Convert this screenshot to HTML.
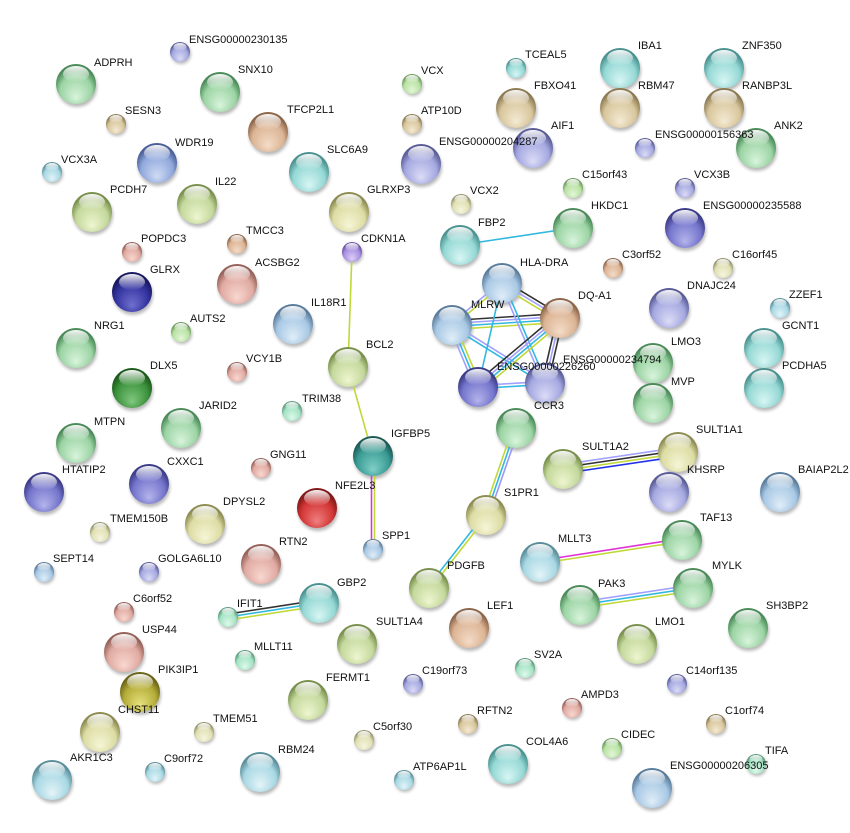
<!DOCTYPE html>
<html><head><meta charset="utf-8"><style>
html,body{margin:0;padding:0;background:#fff;}
svg{display:block;}
text{font-family:"Liberation Sans",Arial,sans-serif;font-size:11px;fill:#111;}
</style></head><body>
<svg width="850" height="833" viewBox="0 0 850 833" xmlns="http://www.w3.org/2000/svg">
<defs>
<filter id="bl" x="-50%" y="-50%" width="200%" height="200%"><feGaussianBlur stdDeviation="1.6"/></filter>
<linearGradient id="hl" x1="0" y1="0" x2="0" y2="1"><stop offset="0" stop-color="#fff" stop-opacity=".95"/><stop offset="1" stop-color="#fff" stop-opacity="0"/></linearGradient>
<radialGradient id="gr" cx="50%" cy="62%" r="55%" fx="50%" fy="85%"><stop offset="0" stop-color="#d8f4dc"/><stop offset=".72" stop-color="#9cd4a4"/><stop offset="1" stop-color="#4a8a58"/></radialGradient>
<radialGradient id="yg" cx="50%" cy="62%" r="55%" fx="50%" fy="85%"><stop offset="0" stop-color="#eef6d0"/><stop offset=".72" stop-color="#c4d89c"/><stop offset="1" stop-color="#78904c"/></radialGradient>
<radialGradient id="ye" cx="50%" cy="62%" r="55%" fx="50%" fy="85%"><stop offset="0" stop-color="#f6f6d8"/><stop offset=".72" stop-color="#dcdca4"/><stop offset="1" stop-color="#8c8c50"/></radialGradient>
<radialGradient id="ol" cx="50%" cy="62%" r="55%" fx="50%" fy="85%"><stop offset="0" stop-color="#e8e480"/><stop offset=".72" stop-color="#b4ac38"/><stop offset="1" stop-color="#6a6418"/></radialGradient>
<radialGradient id="te" cx="50%" cy="62%" r="55%" fx="50%" fy="85%"><stop offset="0" stop-color="#d8f6f4"/><stop offset=".72" stop-color="#94d8d4"/><stop offset="1" stop-color="#4a9290"/></radialGradient>
<radialGradient id="dt" cx="50%" cy="62%" r="55%" fx="50%" fy="85%"><stop offset="0" stop-color="#80d0c8"/><stop offset=".72" stop-color="#3a9c94"/><stop offset="1" stop-color="#1c5a56"/></radialGradient>
<radialGradient id="ta" cx="50%" cy="62%" r="55%" fx="50%" fy="85%"><stop offset="0" stop-color="#f4ead4"/><stop offset=".72" stop-color="#d8c69c"/><stop offset="1" stop-color="#8c7a52"/></radialGradient>
<radialGradient id="sa" cx="50%" cy="62%" r="55%" fx="50%" fy="85%"><stop offset="0" stop-color="#f4dcc8"/><stop offset=".72" stop-color="#dcb494"/><stop offset="1" stop-color="#8c6448"/></radialGradient>
<radialGradient id="pk" cx="50%" cy="62%" r="55%" fx="50%" fy="85%"><stop offset="0" stop-color="#f8d8d0"/><stop offset=".72" stop-color="#e0aaa2"/><stop offset="1" stop-color="#946058"/></radialGradient>
<radialGradient id="rd" cx="50%" cy="62%" r="55%" fx="50%" fy="85%"><stop offset="0" stop-color="#f08080"/><stop offset=".72" stop-color="#d23434"/><stop offset="1" stop-color="#801818"/></radialGradient>
<radialGradient id="bu" cx="50%" cy="62%" r="55%" fx="50%" fy="85%"><stop offset="0" stop-color="#e0eef8"/><stop offset=".72" stop-color="#a8c8e4"/><stop offset="1" stop-color="#5a7c9c"/></radialGradient>
<radialGradient id="pw" cx="50%" cy="62%" r="55%" fx="50%" fy="85%"><stop offset="0" stop-color="#dcdcf6"/><stop offset=".72" stop-color="#a4a8e0"/><stop offset="1" stop-color="#5a5c98"/></radialGradient>
<radialGradient id="dp" cx="50%" cy="62%" r="55%" fx="50%" fy="85%"><stop offset="0" stop-color="#b4b4ec"/><stop offset=".72" stop-color="#7474cc"/><stop offset="1" stop-color="#3c3c88"/></radialGradient>
<radialGradient id="nv" cx="50%" cy="62%" r="55%" fx="50%" fy="85%"><stop offset="0" stop-color="#7070d0"/><stop offset=".72" stop-color="#3434a0"/><stop offset="1" stop-color="#181860"/></radialGradient>
<radialGradient id="dg" cx="50%" cy="62%" r="55%" fx="50%" fy="85%"><stop offset="0" stop-color="#80c880"/><stop offset=".72" stop-color="#3c923c"/><stop offset="1" stop-color="#1c5a1c"/></radialGradient>
<radialGradient id="vi" cx="50%" cy="62%" r="55%" fx="50%" fy="85%"><stop offset="0" stop-color="#dcd0f8"/><stop offset=".72" stop-color="#a890e0"/><stop offset="1" stop-color="#6a50a0"/></radialGradient>
<radialGradient id="mi" cx="50%" cy="62%" r="55%" fx="50%" fy="85%"><stop offset="0" stop-color="#e0f8ec"/><stop offset=".72" stop-color="#a4e4c4"/><stop offset="1" stop-color="#5a9a7c"/></radialGradient>
<radialGradient id="py" cx="50%" cy="62%" r="55%" fx="50%" fy="85%"><stop offset="0" stop-color="#f6f6e0"/><stop offset=".72" stop-color="#e0e0b4"/><stop offset="1" stop-color="#94946a"/></radialGradient>
<radialGradient id="lg" cx="50%" cy="62%" r="55%" fx="50%" fy="85%"><stop offset="0" stop-color="#e4f6d8"/><stop offset=".72" stop-color="#b8e2a4"/><stop offset="1" stop-color="#6c9a5c"/></radialGradient>
<radialGradient id="lb" cx="50%" cy="62%" r="55%" fx="50%" fy="85%"><stop offset="0" stop-color="#e4f4f8"/><stop offset=".72" stop-color="#a8d8e4"/><stop offset="1" stop-color="#5a8e9a"/></radialGradient>
<radialGradient id="sb" cx="50%" cy="62%" r="55%" fx="50%" fy="85%"><stop offset="0" stop-color="#d0dcf4"/><stop offset=".72" stop-color="#90a8dc"/><stop offset="1" stop-color="#4a5e98"/></radialGradient>
<circle id="s20" cx="1" cy="3" r="20"/>
<circle id="s10" cx="1" cy="2" r="10"/>
<ellipse id="h20" cx="0" cy="-10" rx="13" ry="8" fill="url(#hl)"/>
<ellipse id="h10" cx="0" cy="-5" rx="6.5" ry="4" fill="url(#hl)"/>
</defs>

<!-- shadows -->
<g fill="#000" opacity=".28" filter="url(#bl)">
<use href="#s20" x="76" y="84"/><use href="#s10" x="180" y="52"/><use href="#s20" x="220" y="92"/><use href="#s10" x="116" y="124"/><use href="#s20" x="268" y="132"/><use href="#s20" x="157" y="163"/><use href="#s10" x="52" y="172"/><use href="#s20" x="92" y="212"/><use href="#s20" x="197" y="204"/><use href="#s10" x="237" y="244"/><use href="#s10" x="132" y="252"/><use href="#s20" x="132" y="292"/><use href="#s20" x="237" y="284"/><use href="#s20" x="76" y="348"/><use href="#s10" x="181" y="332"/><use href="#s10" x="237" y="372"/><use href="#s20" x="132" y="388"/><use href="#s20" x="181" y="428"/><use href="#s10" x="292" y="411"/><use href="#s20" x="309" y="172"/><use href="#s20" x="349" y="212"/><use href="#s10" x="352" y="252"/><use href="#s20" x="293" y="324"/><use href="#s20" x="348" y="367"/><use href="#s10" x="412" y="84"/><use href="#s10" x="516" y="68"/><use href="#s20" x="516" y="108"/><use href="#s10" x="412" y="124"/><use href="#s20" x="421" y="164"/><use href="#s20" x="533" y="148"/><use href="#s10" x="461" y="204"/><use href="#s20" x="460" y="245"/><use href="#s20" x="502" y="283"/><use href="#s20" x="452" y="325"/><use href="#s20" x="560" y="318"/><use href="#s20" x="478" y="387"/><use href="#s20" x="545" y="383"/><use href="#s20" x="516" y="428"/><use href="#s20" x="620" y="68"/><use href="#s20" x="724" y="68"/><use href="#s20" x="620" y="108"/><use href="#s20" x="724" y="108"/><use href="#s10" x="645" y="148"/><use href="#s20" x="756" y="148"/><use href="#s10" x="573" y="188"/><use href="#s10" x="685" y="188"/><use href="#s20" x="573" y="228"/><use href="#s20" x="685" y="228"/><use href="#s10" x="613" y="268"/><use href="#s10" x="723" y="268"/><use href="#s20" x="669" y="308"/><use href="#s10" x="780" y="308"/><use href="#s20" x="764" y="348"/><use href="#s20" x="653" y="363"/><use href="#s20" x="764" y="388"/><use href="#s20" x="653" y="403"/><use href="#s20" x="76" y="443"/><use href="#s20" x="44" y="492"/><use href="#s20" x="149" y="484"/><use href="#s10" x="261" y="468"/><use href="#s20" x="205" y="524"/><use href="#s10" x="100" y="532"/><use href="#s20" x="261" y="564"/><use href="#s10" x="44" y="572"/><use href="#s10" x="149" y="572"/><use href="#s10" x="124" y="612"/><use href="#s10" x="228" y="617"/><use href="#s20" x="124" y="652"/><use href="#s10" x="245" y="660"/><use href="#s20" x="140" y="692"/><use href="#s20" x="100" y="732"/><use href="#s10" x="204" y="732"/><use href="#s20" x="52" y="780"/><use href="#s10" x="155" y="772"/><use href="#s20" x="260" y="772"/><use href="#s20" x="373" y="456"/><use href="#s20" x="317" y="508"/><use href="#s20" x="486" y="515"/><use href="#s10" x="373" y="549"/><use href="#s20" x="540" y="562"/><use href="#s20" x="429" y="588"/><use href="#s20" x="319" y="603"/><use href="#s20" x="469" y="628"/><use href="#s20" x="357" y="644"/><use href="#s10" x="525" y="668"/><use href="#s10" x="413" y="684"/><use href="#s20" x="308" y="700"/><use href="#s10" x="468" y="724"/><use href="#s10" x="364" y="740"/><use href="#s20" x="508" y="764"/><use href="#s10" x="404" y="780"/><use href="#s20" x="678" y="452"/><use href="#s20" x="563" y="469"/><use href="#s20" x="669" y="492"/><use href="#s20" x="780" y="492"/><use href="#s20" x="682" y="540"/><use href="#s20" x="693" y="588"/><use href="#s20" x="580" y="605"/><use href="#s20" x="748" y="628"/><use href="#s20" x="637" y="644"/><use href="#s10" x="677" y="684"/><use href="#s10" x="572" y="708"/><use href="#s10" x="716" y="724"/><use href="#s10" x="612" y="748"/><use href="#s10" x="756" y="764"/><use href="#s20" x="652" y="788"/>
</g>

<!-- edges -->
<g stroke-width="1.6" fill="none">
<line x1="352" y1="252" x2="348" y2="367" stroke="#c0d838"/>
<line x1="348" y1="367" x2="373" y2="456" stroke="#c0d838"/>
<line x1="371.5" y1="456" x2="371.5" y2="549" stroke="#d040d0"/>
<line x1="374.5" y1="456" x2="374.5" y2="549" stroke="#c0d838"/>
<line x1="460" y1="245" x2="573" y2="228" stroke="#30b8e0"/>
<line x1="513.2" y1="427" x2="483.2" y2="514" stroke="#c0d838"/>
<line x1="516" y1="428" x2="486" y2="515" stroke="#30b8e0"/>
<line x1="518.8" y1="429" x2="488.8" y2="516" stroke="#9898f8"/>
<line x1="484.8" y1="514" x2="427.8" y2="587" stroke="#30b8e0"/>
<line x1="487.2" y1="516" x2="430.2" y2="589" stroke="#c0d838"/>
<line x1="563" y1="464.5" x2="678" y2="447.5" stroke="#a0a0ff"/>
<line x1="563" y1="467.5" x2="678" y2="450.5" stroke="#333"/>
<line x1="563" y1="470.5" x2="678" y2="453.5" stroke="#c0d838"/>
<line x1="563" y1="473.5" x2="678" y2="456.5" stroke="#2030e8"/>
<line x1="540" y1="560.5" x2="682" y2="538.5" stroke="#e030d8"/>
<line x1="540" y1="563.5" x2="682" y2="541.5" stroke="#c0d838"/>
<line x1="580" y1="602" x2="693" y2="585" stroke="#a0a0ff"/>
<line x1="580" y1="605" x2="693" y2="588" stroke="#30b8e0"/>
<line x1="580" y1="608" x2="693" y2="591" stroke="#c0d838"/>
<line x1="228" y1="614" x2="319" y2="600" stroke="#333"/>
<line x1="228" y1="617" x2="319" y2="603" stroke="#30b8e0"/>
<line x1="228" y1="620" x2="319" y2="606" stroke="#c0d838"/>
<!-- cluster -->
<line x1="501" y1="281.9" x2="451" y2="323.9" stroke="#a0a0ff"/>
<line x1="503" y1="284.1" x2="453" y2="326.1" stroke="#c0d838"/>
<line x1="503.6" y1="280.4" x2="561.6" y2="315.4" stroke="#333"/>
<line x1="502" y1="283" x2="560" y2="318" stroke="#a0a0ff"/>
<line x1="500.4" y1="285.6" x2="558.4" y2="320.6" stroke="#c0d838"/>
<line x1="452" y1="320.5" x2="560" y2="313.5" stroke="#333"/>
<line x1="452" y1="323.5" x2="560" y2="316.5" stroke="#a0a0ff"/>
<line x1="452" y1="326.5" x2="560" y2="319.5" stroke="#30b8e0"/>
<line x1="452" y1="329.5" x2="560" y2="322.5" stroke="#c0d838"/>
<line x1="449.2" y1="326.2" x2="475.2" y2="388.2" stroke="#a0a0ff"/>
<line x1="452" y1="325" x2="478" y2="387" stroke="#30b8e0"/>
<line x1="454.8" y1="323.8" x2="480.8" y2="385.8" stroke="#c0d838"/>
<line x1="452.8" y1="323.7" x2="545.8" y2="381.7" stroke="#a0a0ff"/>
<line x1="451.2" y1="326.3" x2="544.2" y2="384.3" stroke="#30b8e0"/>
<line x1="502" y1="283" x2="478" y2="387" stroke="#30b8e0"/>
<line x1="500.6" y1="283.6" x2="543.6" y2="383.6" stroke="#a0a0ff"/>
<line x1="503.4" y1="282.4" x2="546.4" y2="382.4" stroke="#30b8e0"/>
<line x1="557.1" y1="314.6" x2="475.1" y2="383.6" stroke="#333"/>
<line x1="559" y1="316.9" x2="477" y2="385.9" stroke="#a0a0ff"/>
<line x1="561" y1="319.1" x2="479" y2="388.1" stroke="#30b8e0"/>
<line x1="562.9" y1="321.5" x2="480.9" y2="390.5" stroke="#c0d838"/>
<line x1="557.1" y1="317.3" x2="542.1" y2="382.3" stroke="#333"/>
<line x1="560" y1="318" x2="545" y2="383" stroke="#a0a0ff"/>
<line x1="562.9" y1="318.7" x2="547.9" y2="383.7" stroke="#333"/>
<line x1="478" y1="385.5" x2="545" y2="381.5" stroke="#a0a0ff"/>
<line x1="478" y1="388.5" x2="545" y2="384.5" stroke="#30b8e0"/>
</g>

<!-- nodes -->
<g stroke="none">
<circle cx="76" cy="84" r="20" fill="url(#gr)"/><circle cx="180" cy="52" r="10" fill="url(#pw)"/><circle cx="220" cy="92" r="20" fill="url(#gr)"/><circle cx="116" cy="124" r="10" fill="url(#ta)"/><circle cx="268" cy="132" r="20" fill="url(#sa)"/><circle cx="157" cy="163" r="20" fill="url(#sb)"/><circle cx="52" cy="172" r="10" fill="url(#lb)"/><circle cx="92" cy="212" r="20" fill="url(#yg)"/><circle cx="197" cy="204" r="20" fill="url(#yg)"/><circle cx="237" cy="244" r="10" fill="url(#sa)"/><circle cx="132" cy="252" r="10" fill="url(#pk)"/><circle cx="132" cy="292" r="20" fill="url(#nv)"/><circle cx="237" cy="284" r="20" fill="url(#pk)"/><circle cx="76" cy="348" r="20" fill="url(#gr)"/><circle cx="181" cy="332" r="10" fill="url(#lg)"/><circle cx="237" cy="372" r="10" fill="url(#pk)"/><circle cx="132" cy="388" r="20" fill="url(#dg)"/><circle cx="181" cy="428" r="20" fill="url(#gr)"/><circle cx="292" cy="411" r="10" fill="url(#mi)"/><circle cx="309" cy="172" r="20" fill="url(#te)"/><circle cx="349" cy="212" r="20" fill="url(#ye)"/><circle cx="352" cy="252" r="10" fill="url(#vi)"/><circle cx="293" cy="324" r="20" fill="url(#bu)"/><circle cx="348" cy="367" r="20" fill="url(#yg)"/><circle cx="412" cy="84" r="10" fill="url(#lg)"/><circle cx="516" cy="68" r="10" fill="url(#te)"/><circle cx="516" cy="108" r="20" fill="url(#ta)"/><circle cx="412" cy="124" r="10" fill="url(#ta)"/><circle cx="421" cy="164" r="20" fill="url(#pw)"/><circle cx="533" cy="148" r="20" fill="url(#pw)"/><circle cx="461" cy="204" r="10" fill="url(#py)"/><circle cx="460" cy="245" r="20" fill="url(#te)"/><circle cx="502" cy="283" r="20" fill="url(#bu)"/><circle cx="452" cy="325" r="20" fill="url(#bu)"/><circle cx="560" cy="318" r="20" fill="url(#sa)"/><circle cx="478" cy="387" r="20" fill="url(#dp)"/><circle cx="545" cy="383" r="20" fill="url(#pw)"/><circle cx="516" cy="428" r="20" fill="url(#gr)"/><circle cx="620" cy="68" r="20" fill="url(#te)"/><circle cx="724" cy="68" r="20" fill="url(#te)"/><circle cx="620" cy="108" r="20" fill="url(#ta)"/><circle cx="724" cy="108" r="20" fill="url(#ta)"/><circle cx="645" cy="148" r="10" fill="url(#pw)"/><circle cx="756" cy="148" r="20" fill="url(#gr)"/><circle cx="573" cy="188" r="10" fill="url(#lg)"/><circle cx="685" cy="188" r="10" fill="url(#pw)"/><circle cx="573" cy="228" r="20" fill="url(#gr)"/><circle cx="685" cy="228" r="20" fill="url(#dp)"/><circle cx="613" cy="268" r="10" fill="url(#sa)"/><circle cx="723" cy="268" r="10" fill="url(#py)"/><circle cx="669" cy="308" r="20" fill="url(#pw)"/><circle cx="780" cy="308" r="10" fill="url(#lb)"/><circle cx="764" cy="348" r="20" fill="url(#te)"/><circle cx="653" cy="363" r="20" fill="url(#gr)"/><circle cx="764" cy="388" r="20" fill="url(#te)"/><circle cx="653" cy="403" r="20" fill="url(#gr)"/><circle cx="76" cy="443" r="20" fill="url(#gr)"/><circle cx="44" cy="492" r="20" fill="url(#dp)"/><circle cx="149" cy="484" r="20" fill="url(#dp)"/><circle cx="261" cy="468" r="10" fill="url(#pk)"/><circle cx="205" cy="524" r="20" fill="url(#ye)"/><circle cx="100" cy="532" r="10" fill="url(#py)"/><circle cx="261" cy="564" r="20" fill="url(#pk)"/><circle cx="44" cy="572" r="10" fill="url(#bu)"/><circle cx="149" cy="572" r="10" fill="url(#pw)"/><circle cx="124" cy="612" r="10" fill="url(#pk)"/><circle cx="228" cy="617" r="10" fill="url(#mi)"/><circle cx="124" cy="652" r="20" fill="url(#pk)"/><circle cx="245" cy="660" r="10" fill="url(#mi)"/><circle cx="140" cy="692" r="20" fill="url(#ol)"/><circle cx="100" cy="732" r="20" fill="url(#ye)"/><circle cx="204" cy="732" r="10" fill="url(#py)"/><circle cx="52" cy="780" r="20" fill="url(#lb)"/><circle cx="155" cy="772" r="10" fill="url(#lb)"/><circle cx="260" cy="772" r="20" fill="url(#lb)"/><circle cx="373" cy="456" r="20" fill="url(#dt)"/><circle cx="317" cy="508" r="20" fill="url(#rd)"/><circle cx="486" cy="515" r="20" fill="url(#ye)"/><circle cx="373" cy="549" r="10" fill="url(#bu)"/><circle cx="540" cy="562" r="20" fill="url(#lb)"/><circle cx="429" cy="588" r="20" fill="url(#yg)"/><circle cx="319" cy="603" r="20" fill="url(#te)"/><circle cx="469" cy="628" r="20" fill="url(#sa)"/><circle cx="357" cy="644" r="20" fill="url(#yg)"/><circle cx="525" cy="668" r="10" fill="url(#mi)"/><circle cx="413" cy="684" r="10" fill="url(#pw)"/><circle cx="308" cy="700" r="20" fill="url(#yg)"/><circle cx="468" cy="724" r="10" fill="url(#ta)"/><circle cx="364" cy="740" r="10" fill="url(#py)"/><circle cx="508" cy="764" r="20" fill="url(#te)"/><circle cx="404" cy="780" r="10" fill="url(#lb)"/><circle cx="678" cy="452" r="20" fill="url(#ye)"/><circle cx="563" cy="469" r="20" fill="url(#yg)"/><circle cx="669" cy="492" r="20" fill="url(#pw)"/><circle cx="780" cy="492" r="20" fill="url(#bu)"/><circle cx="682" cy="540" r="20" fill="url(#gr)"/><circle cx="693" cy="588" r="20" fill="url(#gr)"/><circle cx="580" cy="605" r="20" fill="url(#gr)"/><circle cx="748" cy="628" r="20" fill="url(#gr)"/><circle cx="637" cy="644" r="20" fill="url(#yg)"/><circle cx="677" cy="684" r="10" fill="url(#pw)"/><circle cx="572" cy="708" r="10" fill="url(#pk)"/><circle cx="716" cy="724" r="10" fill="url(#ta)"/><circle cx="612" cy="748" r="10" fill="url(#lg)"/><circle cx="756" cy="764" r="10" fill="url(#mi)"/><circle cx="652" cy="788" r="20" fill="url(#bu)"/>
</g>

<!-- highlights -->
<g>
<use href="#h20" x="76" y="84"/><use href="#h10" x="180" y="52"/><use href="#h20" x="220" y="92"/><use href="#h10" x="116" y="124"/><use href="#h20" x="268" y="132"/><use href="#h20" x="157" y="163"/><use href="#h10" x="52" y="172"/><use href="#h20" x="92" y="212"/><use href="#h20" x="197" y="204"/><use href="#h10" x="237" y="244"/><use href="#h10" x="132" y="252"/><use href="#h20" x="132" y="292"/><use href="#h20" x="237" y="284"/><use href="#h20" x="76" y="348"/><use href="#h10" x="181" y="332"/><use href="#h10" x="237" y="372"/><use href="#h20" x="132" y="388"/><use href="#h20" x="181" y="428"/><use href="#h10" x="292" y="411"/><use href="#h20" x="309" y="172"/><use href="#h20" x="349" y="212"/><use href="#h10" x="352" y="252"/><use href="#h20" x="293" y="324"/><use href="#h20" x="348" y="367"/><use href="#h10" x="412" y="84"/><use href="#h10" x="516" y="68"/><use href="#h20" x="516" y="108"/><use href="#h10" x="412" y="124"/><use href="#h20" x="421" y="164"/><use href="#h20" x="533" y="148"/><use href="#h10" x="461" y="204"/><use href="#h20" x="460" y="245"/><use href="#h20" x="502" y="283"/><use href="#h20" x="452" y="325"/><use href="#h20" x="560" y="318"/><use href="#h20" x="478" y="387"/><use href="#h20" x="545" y="383"/><use href="#h20" x="516" y="428"/><use href="#h20" x="620" y="68"/><use href="#h20" x="724" y="68"/><use href="#h20" x="620" y="108"/><use href="#h20" x="724" y="108"/><use href="#h10" x="645" y="148"/><use href="#h20" x="756" y="148"/><use href="#h10" x="573" y="188"/><use href="#h10" x="685" y="188"/><use href="#h20" x="573" y="228"/><use href="#h20" x="685" y="228"/><use href="#h10" x="613" y="268"/><use href="#h10" x="723" y="268"/><use href="#h20" x="669" y="308"/><use href="#h10" x="780" y="308"/><use href="#h20" x="764" y="348"/><use href="#h20" x="653" y="363"/><use href="#h20" x="764" y="388"/><use href="#h20" x="653" y="403"/><use href="#h20" x="76" y="443"/><use href="#h20" x="44" y="492"/><use href="#h20" x="149" y="484"/><use href="#h10" x="261" y="468"/><use href="#h20" x="205" y="524"/><use href="#h10" x="100" y="532"/><use href="#h20" x="261" y="564"/><use href="#h10" x="44" y="572"/><use href="#h10" x="149" y="572"/><use href="#h10" x="124" y="612"/><use href="#h10" x="228" y="617"/><use href="#h20" x="124" y="652"/><use href="#h10" x="245" y="660"/><use href="#h20" x="140" y="692"/><use href="#h20" x="100" y="732"/><use href="#h10" x="204" y="732"/><use href="#h20" x="52" y="780"/><use href="#h10" x="155" y="772"/><use href="#h20" x="260" y="772"/><use href="#h20" x="373" y="456"/><use href="#h20" x="317" y="508"/><use href="#h20" x="486" y="515"/><use href="#h10" x="373" y="549"/><use href="#h20" x="540" y="562"/><use href="#h20" x="429" y="588"/><use href="#h20" x="319" y="603"/><use href="#h20" x="469" y="628"/><use href="#h20" x="357" y="644"/><use href="#h10" x="525" y="668"/><use href="#h10" x="413" y="684"/><use href="#h20" x="308" y="700"/><use href="#h10" x="468" y="724"/><use href="#h10" x="364" y="740"/><use href="#h20" x="508" y="764"/><use href="#h10" x="404" y="780"/><use href="#h20" x="678" y="452"/><use href="#h20" x="563" y="469"/><use href="#h20" x="669" y="492"/><use href="#h20" x="780" y="492"/><use href="#h20" x="682" y="540"/><use href="#h20" x="693" y="588"/><use href="#h20" x="580" y="605"/><use href="#h20" x="748" y="628"/><use href="#h20" x="637" y="644"/><use href="#h10" x="677" y="684"/><use href="#h10" x="572" y="708"/><use href="#h10" x="716" y="724"/><use href="#h10" x="612" y="748"/><use href="#h10" x="756" y="764"/><use href="#h20" x="652" y="788"/>
</g>

<!-- labels -->
<g>
<text x="94" y="66">ADPRH</text>
<text x="189" y="43">ENSG00000230135</text>
<text x="238" y="73">SNX10</text>
<text x="125" y="114">SESN3</text>
<text x="287" y="113">TFCP2L1</text>
<text x="175" y="146">WDR19</text>
<text x="61" y="163">VCX3A</text>
<text x="110" y="193">PCDH7</text>
<text x="215" y="185">IL22</text>
<text x="246" y="234">TMCC3</text>
<text x="141" y="242">POPDC3</text>
<text x="150" y="273">GLRX</text>
<text x="255" y="266">ACSBG2</text>
<text x="94" y="329">NRG1</text>
<text x="190" y="322">AUTS2</text>
<text x="246" y="362">VCY1B</text>
<text x="150" y="369">DLX5</text>
<text x="199" y="409">JARID2</text>
<text x="302" y="402">TRIM38</text>
<text x="327" y="153">SLC6A9</text>
<text x="367" y="193">GLRXP3</text>
<text x="361" y="242">CDKN1A</text>
<text x="311" y="306">IL18R1</text>
<text x="366" y="348">BCL2</text>
<text x="421" y="74">VCX</text>
<text x="525" y="58">TCEAL5</text>
<text x="534" y="89">FBXO41</text>
<text x="421" y="114">ATP10D</text>
<text x="439" y="145">ENSG00000204287</text>
<text x="551" y="129">AIF1</text>
<text x="470" y="194">VCX2</text>
<text x="478" y="226">FBP2</text>
<text x="520" y="266">HLA-DRA</text>
<text x="471" y="308">MLRW</text>
<text x="578" y="299">DQ-A1</text>
<text x="563" y="363">ENSG00000234794</text>
<text x="497" y="370">ENSG00000226260</text>
<text x="534" y="409">CCR3</text>
<text x="638" y="49">IBA1</text>
<text x="742" y="49">ZNF350</text>
<text x="638" y="89">RBM47</text>
<text x="742" y="89">RANBP3L</text>
<text x="655" y="138">ENSG00000156363</text>
<text x="774" y="129">ANK2</text>
<text x="582" y="178">C15orf43</text>
<text x="694" y="178">VCX3B</text>
<text x="591" y="209">HKDC1</text>
<text x="703" y="209">ENSG00000235588</text>
<text x="622" y="258">C3orf52</text>
<text x="732" y="258">C16orf45</text>
<text x="687" y="289">DNAJC24</text>
<text x="789" y="298">ZZEF1</text>
<text x="782" y="329">GCNT1</text>
<text x="671" y="345">LMO3</text>
<text x="782" y="369">PCDHA5</text>
<text x="671" y="385">MVP</text>
<text x="94" y="425">MTPN</text>
<text x="62" y="473">HTATIP2</text>
<text x="167" y="465">CXXC1</text>
<text x="270" y="458">GNG11</text>
<text x="223" y="505">DPYSL2</text>
<text x="110" y="522">TMEM150B</text>
<text x="279" y="545">RTN2</text>
<text x="53" y="562">SEPT14</text>
<text x="158" y="562">GOLGA6L10</text>
<text x="133" y="602">C6orf52</text>
<text x="237" y="607">IFIT1</text>
<text x="142" y="633">USP44</text>
<text x="254" y="650">MLLT11</text>
<text x="158" y="673">PIK3IP1</text>
<text x="118" y="713">CHST11</text>
<text x="213" y="722">TMEM51</text>
<text x="70" y="761">AKR1C3</text>
<text x="164" y="762">C9orf72</text>
<text x="278" y="753">RBM24</text>
<text x="391" y="437">IGFBP5</text>
<text x="335" y="489">NFE2L3</text>
<text x="504" y="496">S1PR1</text>
<text x="382" y="539">SPP1</text>
<text x="558" y="542">MLLT3</text>
<text x="447" y="569">PDGFB</text>
<text x="337" y="586">GBP2</text>
<text x="487" y="609">LEF1</text>
<text x="376" y="625">SULT1A4</text>
<text x="534" y="658">SV2A</text>
<text x="422" y="674">C19orf73</text>
<text x="326" y="681">FERMT1</text>
<text x="477" y="714">RFTN2</text>
<text x="373" y="730">C5orf30</text>
<text x="526" y="745">COL4A6</text>
<text x="413" y="770">ATP6AP1L</text>
<text x="696" y="433">SULT1A1</text>
<text x="582" y="450">SULT1A2</text>
<text x="687" y="473">KHSRP</text>
<text x="798" y="473">BAIAP2L2</text>
<text x="700" y="521">TAF13</text>
<text x="712" y="569">MYLK</text>
<text x="598" y="587">PAK3</text>
<text x="766" y="609">SH3BP2</text>
<text x="655" y="625">LMO1</text>
<text x="686" y="674">C14orf135</text>
<text x="581" y="698">AMPD3</text>
<text x="725" y="714">C1orf74</text>
<text x="621" y="738">CIDEC</text>
<text x="765" y="754">TIFA</text>
<text x="670" y="769">ENSG00000206305</text>
</g>
</svg>
</body></html>
